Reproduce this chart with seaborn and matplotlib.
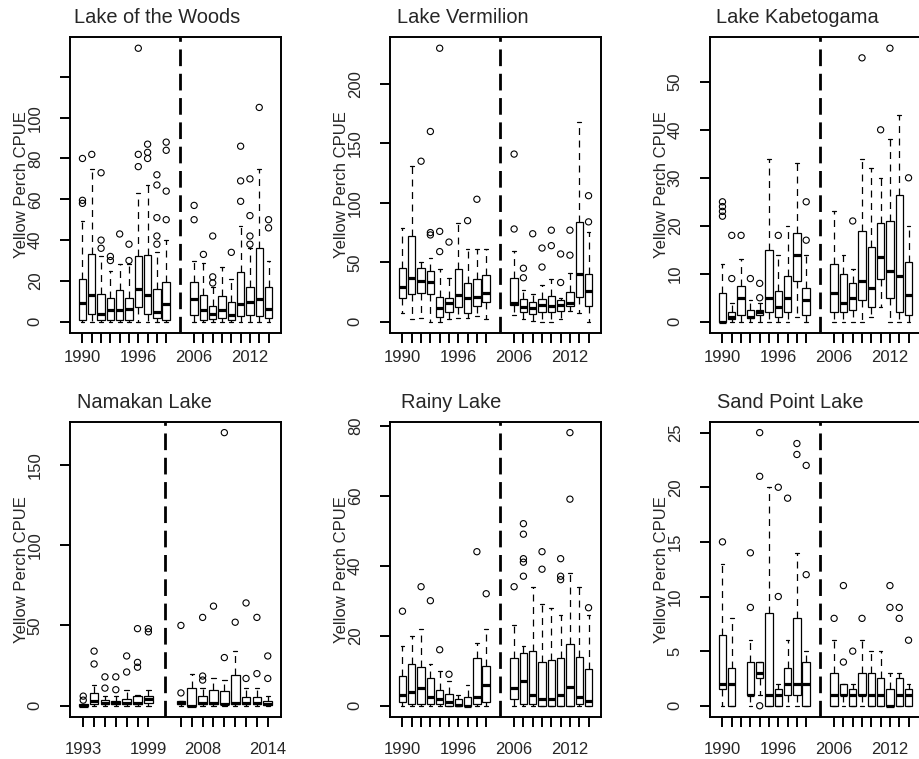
import matplotlib
matplotlib.use("Agg")
import matplotlib.pyplot as plt
import numpy as np
import pandas as pd
import seaborn as sns

sns.set_style("white")
plt.rcParams["font.family"] = ["Liberation Sans", "DejaVu Sans"]
plt.rcParams["lines.scale_dashes"] = False

# ------------------------------------------------------------------ data
EARLY_90 = list(range(1990, 2000))
EARLY_93 = list(range(1993, 2000))
LATE = list(range(2006, 2015))

# Lake of the Woods
low_years = EARLY_90 + LATE
low_lo = [0, 0, 0, 0, 0, 0, 0, 0, 0, 0, 0, 0, 0, 0, 0, 0, 0, 0, 0]
low_q1 = [0.8, 4, 0.8, 0.8, 0.8, 0.8, 7, 4, 2, 0.8, 3.5, 1, 1.5, 2, 1, 3, 3.5, 3, 2]
low_med = [9, 13, 4, 6, 5.7, 6.2, 15.9, 13, 5, 8.7, 11.1, 6, 4, 6, 3.3, 8.7, 9.5, 11.1, 6.2]
low_q3 = [20.8, 33, 13.4, 11.5, 15.6, 11.8, 32, 32.5, 16, 19.7, 19.3, 13.1, 7.9, 12.6, 9.8, 24.6, 16.9, 36, 17.2]
low_hi = [49.5, 75, 32, 25, 28.2, 28.5, 63, 67.2, 34, 40, 29.8, 29, 16.9, 27, 21, 47, 36, 75, 29.8]
low_out = [[58, 59.5, 80], [82], [36, 40, 73], [30, 32], [43], [30, 38], [76, 82, 134],
           [80, 83, 87], [38, 42, 51, 67, 72], [50, 64, 84, 88],
           [50, 57], [33], [19, 22, 42], [], [34], [59, 69, 86], [38, 42, 52, 70], [105], [46, 50]]
low_yticks = [0, 20, 40, 60, 80, 100, 120]
low_ytick_labels = ["0", "20", "40", "60", "80", "100", ""]
low_xlabels = [1990, 1996, 2006, 2012]

# Lake Vermilion
ver_years = EARLY_90 + LATE
ver_lo = [7, 2, 3, 0, 0, 2, 3, 3, 5, 2, 6, 2, 1, 0, 0, 2, 9, 7, 0]
ver_q1 = [19.6, 23, 24.4, 23, 4.2, 7.9, 12, 7, 13, 16.8, 14, 7.9, 6.2, 7.9, 7.9, 9, 13.2, 21, 13.2]
ver_med = [29.5, 37, 34, 33.7, 11.2, 15.4, 22.5, 20, 21, 24, 16, 12, 11.2, 14, 13.2, 14, 16, 40, 26]
ver_q3 = [44.9, 72.1, 44.9, 42.7, 21, 20.2, 44, 32.8, 36.2, 39.3, 37, 19, 16.8, 19, 21.9, 18.2, 25.3, 84.2, 40.1]
ver_hi = [79, 131, 50, 53.3, 44, 37, 83.4, 61, 61, 61, 59.8, 26.7, 23, 30.9, 36, 20, 41.3, 167.8, 75.8]
ver_out = [[], [], [135], [73, 75, 160], [59, 76, 230], [67], [], [85], [103], [],
           [78, 141], [37, 45], [74], [46, 62], [64, 77], [33, 57], [56, 77], [], [84, 106]]
ver_yticks = [0, 50, 100, 150, 200]
ver_ytick_labels = ["0", "50", "100", "150", "200"]
ver_xlabels = [1990, 1996, 2006, 2012]

# Lake Kabetogama
kab_years = EARLY_90 + LATE
kab_lo = [0, 0, 0, 0, 0, 0, 0, 0, 1, 0, 0, 0, 0, 0, 1, 3, 0, 0, 0]
kab_q1 = [0, 0.5, 1.5, 0.8, 1.5, 2, 1, 2, 8.5, 1.5, 2, 2, 2.5, 4.5, 3, 9, 5, 2, 1.5]
kab_med = [0, 1, 5, 1, 2, 5, 3, 5, 14, 4.5, 6, 4, 5, 8.5, 7, 13.5, 10.5, 9.5, 5.5]
kab_q3 = [5.9, 2, 7.5, 2.4, 2.5, 15, 6.5, 9.6, 18.5, 7, 12, 10, 8, 19, 15.5, 20.5, 21, 26.4, 12.5]
kab_hi = [12, 4, 13, 4.5, 4, 33.9, 14, 20, 33, 14, 23, 14, 11, 34, 32, 30, 38, 43, 20]
kab_out = [[22, 23, 24, 25], [9, 18], [18], [9], [5, 8], [], [18], [], [], [17, 25],
           [], [], [21], [55], [], [40], [57], [], [30]]
kab_yticks = [0, 10, 20, 30, 40, 50]
kab_ytick_labels = ["0", "10", "20", "30", "40", "50"]
kab_xlabels = [1990, 1996, 2006, 2012]

# Namakan Lake
nam_years = EARLY_93 + LATE
nam_lo = [0, 0, 0, 0, 0, 0, 0, 0, 0, 0, 0, 0, 0, 0, 0, 0]
nam_q1 = [0, 1, 1, 1, 1, 1, 2, 1, 0, 1, 1, 1, 1, 1, 1, 0.5]
nam_med = [0, 3, 2, 2, 1.5, 2, 4, 2, 0, 2, 2, 1, 2, 1.5, 2, 1]
nam_q3 = [1, 7.9, 3.7, 3, 4, 5.8, 6.2, 3, 11, 5.8, 10, 8.9, 19, 5.2, 5.5, 3]
nam_hi = [1, 13, 6.2, 6, 10, 7, 10, 3, 20, 11, 17, 16, 34, 11, 11, 6]
nam_out = [[3.5, 6], [26, 34], [11, 18], [10, 18], [21, 31], [24, 27, 48], [46, 48],
           [8, 50], [], [16, 18.5, 55], [62], [30, 170], [52], [17, 64], [20, 55], [17, 31]]
nam_yticks = [0, 50, 100, 150]
nam_ytick_labels = ["0", "50", "100", "150"]
nam_xlabels = [1993, 1999, 2008, 2014]

# Rainy Lake
rai_years = EARLY_90 + LATE
rai_lo = [0] * 19
rai_q1 = [1, 0.5, 0.5, 0.5, 0.5, 0, 0, 0, 0.5, 1, 2, 0.5, 0.5, 0, 0, 0, 0, 0.5, 0]
rai_med = [3, 4, 5, 2.5, 2, 1, 0.3, 0, 2.5, 6, 5, 7, 3, 2, 2, 3, 5.5, 2.5, 1.5]
rai_q3 = [8.6, 12, 11, 8, 4.6, 3.5, 2, 2.5, 13.5, 11.4, 13.5, 15, 15.5, 12.5, 13, 13.5, 17.5, 14, 10.5]
rai_hi = [17, 20, 22, 12, 10, 7, 3, 6, 18, 22, 23, 17, 34, 29, 28, 26, 38, 34, 26]
rai_out = [[27], [], [34], [30], [16], [9], [], [], [44], [32],
           [34], [37, 41, 42, 49, 52], [], [39, 44], [], [36, 37, 42], [59, 78], [], [28]]
rai_yticks = [0, 20, 40, 60, 80]
rai_ytick_labels = ["0", "20", "40", "60", "80"]
rai_xlabels = [1990, 1996, 2006, 2012]

# Sand Point Lake (no 1992 sample)
san_years = [1990, 1991, 1993, 1994, 1995, 1996, 1997, 1998, 1999] + LATE
san_lo = [0, 0, 0, 1, 0, 0, 0, 0, 0, 0, 0, 0, 0, 0, 0, 0, 0, 0]
san_q1 = [1.5, 0, 1, 2.5, 0, 0, 1, 1, 0, 0, 1, 0, 1, 0, 0, 0, 0, 0]
san_med = [2, 2, 1, 3, 1, 1, 2, 2, 2, 1, 1, 1, 1, 1, 1, 0, 1, 1]
san_q3 = [6.5, 3.5, 4, 4, 8.5, 1.5, 3.5, 8, 4, 3, 2, 1.5, 3, 3, 2.5, 1.5, 2.5, 1.5]
san_hi = [13, 8, 6, 4, 20, 2, 6, 14, 5, 6, 2, 2, 6, 5, 5, 3, 3, 2]
san_out = [[15], [], [9, 14], [0, 21, 25], [], [10, 20], [19], [23, 24], [12, 22],
           [8], [4, 11], [5], [8], [], [], [9, 11], [8, 9], [6]]
san_yticks = [0, 5, 10, 15, 20, 25]
san_ytick_labels = ["0", "5", "10", "15", "20", "25"]
san_xlabels = [1990, 1996, 2006, 2012]

titles = ["Lake of the Woods", "Lake Vermilion", "Lake Kabetogama",
          "Namakan Lake", "Rainy Lake", "Sand Point Lake"]

# ------------------------------------------------------------------ layout (pixels)
W, H = 919, 759
COL_X = [70, 390, 710]
AX_W = 211
ROWS = [(37.3, 332.7), (421.7, 716.7)]
TITLE_DX = [4, 7, 6, 7, 11, 7]
XPAD = [5.0, 11.0]


def slot_map(early, late):
    m = {y: i + 1 for i, y in enumerate(early)}
    off = len(early) + 2
    m.update({y: off + i + 1 for i, y in enumerate(late)})
    return m, len(early) + 2 + len(late), len(early) + 1.5


def draw(ax, k, title, early, late, years, lo, q1, med, q3, hi, out,
         yticks, ytick_labels, xlabels):
    smap, n, sep = slot_map(early, late)
    rows = [(smap[yr], v) for yr, a, b, c, d, e in zip(years, lo, q1, med, q3, hi)
            for v in (a, b, c, d, e)]
    df = pd.DataFrame(rows, columns=["slot", "cpue"])
    orows = [(smap[yr], v) for yr, vals in zip(years, out) for v in vals]
    odf = pd.DataFrame(orows, columns=["slot", "cpue"])

    sns.boxplot(data=df, x="slot", y="cpue", native_scale=True, orient="x",
                whis=(0, 100), width=0.8, color="white", saturation=1,
                linecolor="black", linewidth=0.9, showfliers=False,
                medianprops={"linewidth": 2.3},
                whiskerprops={"linestyle": (0, (5, 4))},
                ax=ax)
    sns.scatterplot(data=odf, x="slot", y="cpue", marker="o", s=20,
                    facecolor="none", edgecolor="black", linewidth=0.8,
                    legend=False, zorder=3, ax=ax)
    ax.axvline(sep, color="black", linewidth=2.0, linestyle=(0, (12, 5.5)))

    ax.set_xlim(0.5 - 0.04 * n, n + 0.5 + 0.04 * n)
    allv = list(lo) + list(hi) + [v for vals in out for v in vals]
    vmin, vmax = min(allv), max(allv)
    r = vmax - vmin
    ax.set_ylim(vmin - 0.04 * r, vmax + 0.04 * r)

    tick_years = early + late
    ax.set_xticks([smap[y] for y in tick_years])
    ax.set_xticklabels([str(y) if y in xlabels else "" for y in tick_years])
    ax.set_yticks(yticks)
    ax.set_yticklabels(ytick_labels)
    ax.set_xlabel("")
    ax.set_ylabel("Yellow Perch CPUE", fontsize=12)
    ax.yaxis.set_label_coords(-40.5 / AX_W, 0.5)

    row = k // 3
    ax.tick_params(axis="both", direction="out", length=7.2, width=1.4,
                   labelsize=12, bottom=True, left=True, color="black")
    ax.tick_params(axis="x", pad=XPAD[row])
    ax.tick_params(axis="y", pad=12.4)
    plt.setp(ax.get_yticklabels(), rotation=90, va="center")
    for s in ax.spines.values():
        s.set_linewidth(1.4)
        s.set_color("black")
        s.set_visible(True)

    top, bot = ROWS[row]
    ah = bot - top
    ax.set_title(title, loc="left", x=TITLE_DX[k] / AX_W, y=1 + 14.2 / ah, pad=0,
                 fontsize=14.4)


fig = plt.figure(figsize=(W / 100, H / 100), dpi=100)
fig.patch.set_facecolor("white")

panels = [
    (EARLY_90, LATE, low_years, low_lo, low_q1, low_med, low_q3, low_hi, low_out, low_yticks, low_ytick_labels, low_xlabels),
    (EARLY_90, LATE, ver_years, ver_lo, ver_q1, ver_med, ver_q3, ver_hi, ver_out, ver_yticks, ver_ytick_labels, ver_xlabels),
    (EARLY_90, LATE, kab_years, kab_lo, kab_q1, kab_med, kab_q3, kab_hi, kab_out, kab_yticks, kab_ytick_labels, kab_xlabels),
    (EARLY_93, LATE, nam_years, nam_lo, nam_q1, nam_med, nam_q3, nam_hi, nam_out, nam_yticks, nam_ytick_labels, nam_xlabels),
    (EARLY_90, LATE, rai_years, rai_lo, rai_q1, rai_med, rai_q3, rai_hi, rai_out, rai_yticks, rai_ytick_labels, rai_xlabels),
    (EARLY_90, LATE, san_years, san_lo, san_q1, san_med, san_q3, san_hi, san_out, san_yticks, san_ytick_labels, san_xlabels),
]

for k, p in enumerate(panels):
    row, col = divmod(k, 3)
    top, bot = ROWS[row]
    x0 = COL_X[col]
    ax = fig.add_axes([x0 / W, (H - bot) / H, AX_W / W, (bot - top) / H])
    ax.set_facecolor("white")
    draw(ax, k, titles[k], *p)

fig.savefig("out.png", dpi=100, facecolor="white")
